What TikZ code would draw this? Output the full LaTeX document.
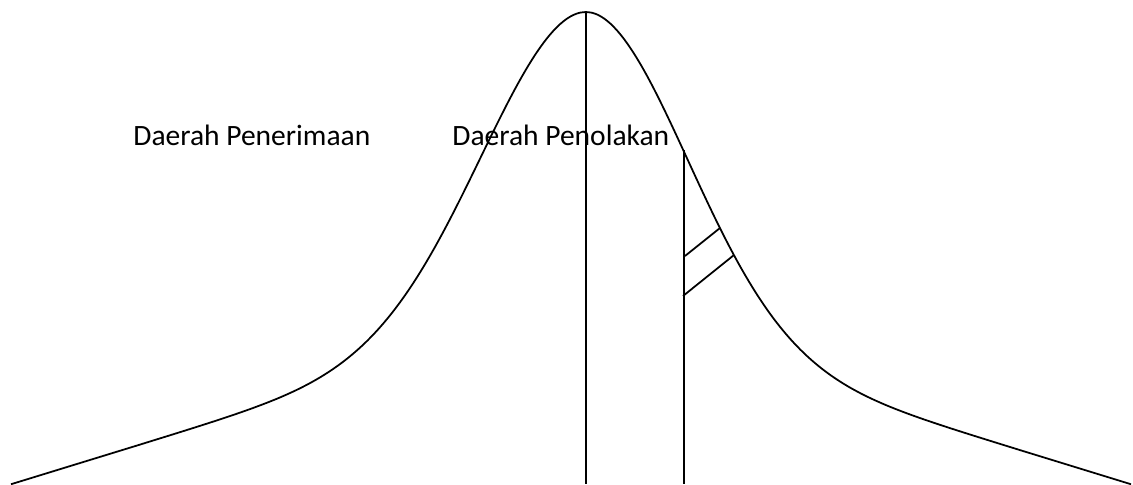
\documentclass[tikz,border=0pt]{standalone}
\usepackage{fontspec}
\setmainfont{Carlito}
\usepackage{tikz}
\usetikzlibrary{positioning,calc}

\begin{document}
\begin{tikzpicture}[
    x=0.02cm,
    y=-0.02cm,
    declare function={
      ramp(\x,\l)=1-30*sqrt(((\x-586)/30)^2+1)/\l;
      leftbell(\x)=484-304.2*exp(-(((\x-586)/148)^2))-177*ramp(\x,575);
      rightbell(\x)=484-313.2*exp(-(((\x-586)/143)^2))-168*ramp(\x,545);
    },
    curve/.style={draw=black, line width=1pt},
    regiontext/.style={font=\fontsize{16.8}{20}\selectfont, inner sep=0pt, anchor=base west}
]
\useasboundingbox (0,0) rectangle (1133,484);
\coordinate (peak) at (586,12);
\coordinate (meanfoot) at (586,484);
\coordinate (crit) at (684,150);
\coordinate (critfoot) at (684,484);
\coordinate (hatchaa) at (685,256);
\coordinate (hatchab) at (720,228);
\coordinate (hatchba) at (683,296);
\coordinate (hatchbb) at (734,255);
\node[regiontext] (accept) at (133,145) {Daerah Penerimaan};
\node[regiontext] (reject) at (452,145) {Daerah Penolakan};
\draw[curve] plot[smooth, domain=11:586, samples=90] (\x,{leftbell(\x)})
  -- plot[smooth, domain=586:1131, samples=90] (\x,{rightbell(\x)});
\draw[curve] (peak) -- (meanfoot);
\draw[curve] (crit) -- (critfoot);
\draw[curve] (hatchaa) -- (hatchab);
\draw[curve] (hatchba) -- (hatchbb);
\end{tikzpicture}
\end{document}
